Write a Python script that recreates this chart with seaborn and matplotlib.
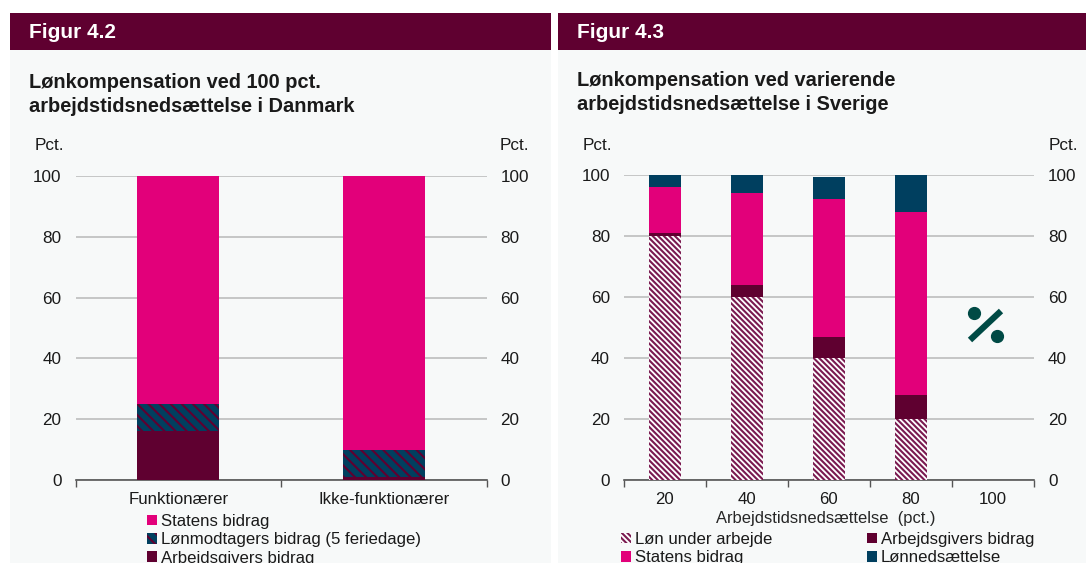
import matplotlib
matplotlib.use('Agg')
import matplotlib.pyplot as plt
from matplotlib.lines import Line2D
from matplotlib.patches import Rectangle
import seaborn as sns

# Figur 4.2
dk_categories = ['Funktionærer', 'Ikke-funktionærer']
dk_employer = [16, 1]
dk_employee = [9, 9]
dk_state = [75, 90]

# Figur 4.3
se_categories = ['20', '40', '60', '80', '100']
se_wage = [80, 60, 40, 20, 0]
se_employer = [1, 4, 7, 8, 0]
se_state = [15, 30, 45, 60, 0]
se_reduction = [4, 6, 7.5, 12, 0]

y_ticks = [0, 20, 40, 60, 80, 100]

WINE = '#5F0030'
PINK = '#E2007A'
NAVY = '#003F5F'
PANEL = '#F7F9F9'
GRID = '#BDBDBD'
W, H = 1086, 563
FS = 12.1

sns.set_theme(style='white')
plt.rcParams['font.family'] = ['Liberation Sans', 'DejaVu Sans']
plt.rcParams['text.color'] = '#1a1a1a'
plt.rcParams['hatch.linewidth'] = 1.5

fig = plt.figure(figsize=(W / 100, H / 100), dpi=100, facecolor='white')


def box(x0, y0, x1, y1):
    # pixel box (from top left) to figure fractions
    return [x0 / W, 1 - y1 / H, (x1 - x0) / W, (y1 - y0) / H]


def add_rect(x0, y0, x1, y1, color):
    l, b, w, h = box(x0, y0, x1, y1)
    fig.patches.append(Rectangle((l, b), w, h, transform=fig.transFigure, color=color, lw=0, zorder=-1))


def put_text(x, y, s, **kw):
    fig.text(x / W, 1 - y / H, s, va='center', **kw)


def stacked(ax, cats, series):
    bottom = [0] * len(cats)
    handles = []
    labels = []
    for values, label, face, hatch_color in series:
        sns.barplot(x=cats, y=values, order=cats, bottom=bottom, color=face, saturation=1,
                    width=0.4, ax=ax, linewidth=0, zorder=3)
        bars = ax.containers[-1]
        if hatch_color:
            for b in bars:
                # 3 backslashes on the navy bars, 6 on the wage bars
                b.set_hatch('\\\\\\' if face == NAVY else '\\\\\\\\\\\\')
                b.set_edgecolor(hatch_color)
        handles.append(bars[0])
        labels.append(label)
        bottom = [a + b for a, b in zip(bottom, values)]
    return handles, labels


def style_axes(ax, cats):
    n = len(cats)
    ax.set_xlim(-0.5, n - 0.5)
    ax.set_ylim(0, 100)
    ax.set_yticks(y_ticks)
    ax.set_facecolor('none')
    ax.set_axisbelow(True)
    ax.grid(axis='y', color=GRID, lw=1.2)
    ax.grid(axis='x', visible=False)
    for side in ['top', 'left', 'right']:
        ax.spines[side].set_visible(False)
    ax.spines['bottom'].set_color('#555555')
    ax.spines['bottom'].set_linewidth(1.2)
    ax.set_xticks([i - 0.5 for i in range(n + 1)])
    ax.set_xticklabels([])
    ax.set_xticks(range(n), labels=cats, minor=True)
    ax.tick_params(axis='x', which='major', length=5, width=1, color='#555555', bottom=True)
    ax.tick_params(axis='x', which='minor', length=0, labelsize=FS, pad=8.5, labelcolor='#1a1a1a')
    ax.tick_params(axis='y', length=0, labelsize=12.3, pad=10, left=False, right=False,
                   labelleft=True, labelright=True, labelcolor='#1a1a1a')


# panels and headers
add_rect(10, 50, 551, H, PANEL)
add_rect(558, 50, W, H, PANEL)
add_rect(10, 13, 551, 50, WINE)
add_rect(558, 13, W, 50, WINE)

put_text(29, 32, 'Figur 4.2', color='white', fontsize=15, fontweight='bold')
put_text(577, 32, 'Figur 4.3', color='white', fontsize=15, fontweight='bold')
put_text(29, 82, 'Lønkompensation ved 100 pct.', fontsize=14.4, fontweight='bold')
put_text(29, 106, 'arbejdstidsnedsættelse i Danmark', fontsize=14.4, fontweight='bold')
put_text(577, 80, 'Lønkompensation ved varierende', fontsize=14.4, fontweight='bold')
put_text(577, 105, 'arbejdstidsnedsættelse i Sverige', fontsize=14.4, fontweight='bold')
put_text(35, 146, 'Pct.', fontsize=12.3)
put_text(500, 146, 'Pct.', fontsize=12.3)
put_text(583, 146, 'Pct.', fontsize=12.3)
put_text(1049, 146, 'Pct.', fontsize=12.3)

# Figur 4.2
ax1 = fig.add_axes(box(75.5, 176, 486.5, 480))
h1, l1 = stacked(ax1, dk_categories, [
    (dk_employer, 'Arbejdsgivers bidrag', WINE, None),
    (dk_employee, 'Lønmodtagers bidrag (5 feriedage)', NAVY, WINE),
    (dk_state, 'Statens bidrag', PINK, None),
])
style_axes(ax1, dk_categories)
ax1.legend(handles=h1[::-1], labels=l1[::-1], loc='upper left', bbox_to_anchor=(147 / W, 1 - 514 / H),
           bbox_transform=fig.transFigure, frameon=False, fontsize=FS, ncols=1,
           handlelength=0.6, handleheight=0.6, handletextpad=0.25, labelspacing=0.2,
           borderpad=0, borderaxespad=0)

# Figur 4.3
ax2 = fig.add_axes(box(624, 175, 1034, 480))
h2, l2 = stacked(ax2, se_categories, [
    (se_wage, 'Løn under arbejde', 'white', '#7A1A50'),
    (se_employer, 'Arbejdsgivers bidrag', WINE, None),
    (se_state, 'Statens bidrag', PINK, None),
    (se_reduction, 'Lønnedsættelse', NAVY, None),
])
style_axes(ax2, se_categories)
ax2.set_xlabel('Arbejdstidsnedsættelse  (pct.)', fontsize=11.9, labelpad=0)
ax2.xaxis.set_label_coords(0.4927, -0.1)
ax2.legend(handles=[h2[0], h2[2], h2[1], h2[3]], labels=[l2[0], l2[2], l2[1], l2[3]], loc='upper left',
           bbox_to_anchor=(621 / W, 1 - 532 / H), bbox_transform=fig.transFigure,
           frameon=False, fontsize=FS, ncols=2, handlelength=0.6, handleheight=0.6,
           handletextpad=0.25, labelspacing=0.2, columnspacing=5.6,
           borderpad=0, borderaxespad=0)

# percent icon
ICON = '#004A45'
fig.add_artist(Line2D([970 / W, 1001 / W], [1 - 340 / H, 1 - 311 / H], color=ICON, lw=4.5,
                      solid_capstyle='butt'))
fig.add_artist(Line2D([974 / W, 997 / W], [1 - 313 / H, 1 - 336 / H], color=ICON, lw=0,
                      marker='o', ms=8.5))

fig.savefig('out.png', dpi=100)
